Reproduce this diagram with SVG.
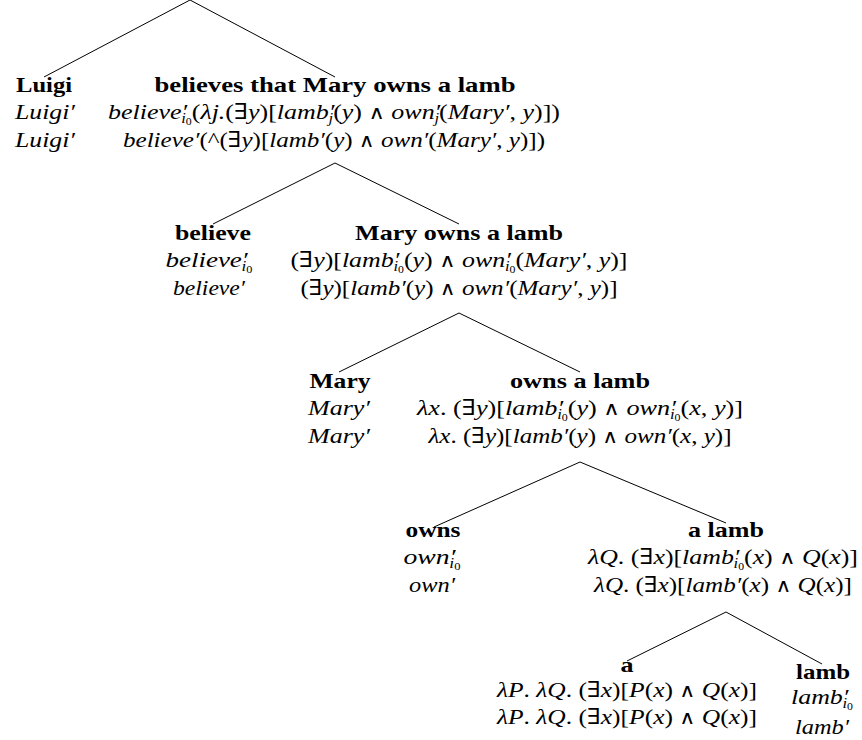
<svg xmlns="http://www.w3.org/2000/svg" width="862" height="740" viewBox="0 0 862 740">
<style>
text { font-family: "Liberation Serif", "DejaVu Serif", serif; fill: #000; text-anchor: middle; }
.b { font-weight: bold; font-size: 22px; }
.m { font-style: italic; font-size: 22px; }
.u { font-style: normal; }
.w { font-family: "DejaVu Sans", "DejaVu Serif", sans-serif; font-style: normal; font-weight: 200; font-size: 19px; }
.s { font-size: 14px; }
.ss { font-size: 10px; font-style: normal; }
.edge { stroke: #000; stroke-width: 1; fill: none; }
</style>
<rect width="862" height="740" fill="#fff"/>
<g id="connectors">
<line class="edge" x1="190" y1="0" x2="44" y2="77"/>
<line class="edge" x1="190" y1="0" x2="335" y2="77"/>
<line class="edge" x1="335" y1="163" x2="213" y2="224"/>
<line class="edge" x1="335" y1="163" x2="459" y2="224"/>
<line class="edge" x1="459" y1="313" x2="339" y2="372"/>
<line class="edge" x1="459" y1="313" x2="580" y2="372"/>
<line class="edge" x1="580" y1="462" x2="434" y2="527"/>
<line class="edge" x1="580" y1="462" x2="726" y2="523"/>
<line class="edge" x1="726" y1="612" x2="627" y2="661"/>
<line class="edge" x1="726" y1="612" x2="822" y2="664"/>
</g>
<g id="luigi">
<text class="b" x="44" y="92" textLength="56" lengthAdjust="spacingAndGlyphs">Luigi</text>
<text class="m" x="45" y="119" textLength="60" lengthAdjust="spacingAndGlyphs">Luigi′</text>
<text class="m" x="45" y="147" textLength="60" lengthAdjust="spacingAndGlyphs">Luigi′</text>
</g>
<g id="believes-that">
<text class="b" x="335" y="92" textLength="361" lengthAdjust="spacingAndGlyphs">believes that Mary owns a lamb</text>
<text class="m" x="334" y="119" textLength="452" lengthAdjust="spacingAndGlyphs">believe′<tspan class="s" dx="-5" dy="4">i</tspan><tspan class="ss" dy="2">0</tspan><tspan class="u" dy="-6">(</tspan>λj.<tspan class="u">(∃</tspan>y<tspan class="u">)[</tspan>lamb′<tspan class="s" dx="-5" dy="4">j</tspan><tspan class="u" dy="-4">(</tspan>y<tspan class="u">) </tspan><tspan class="w">∧</tspan><tspan class="u"> </tspan>own′<tspan class="s" dx="-5" dy="4">j</tspan><tspan class="u" dy="-4">(</tspan>Mary′<tspan class="u">, </tspan>y<tspan class="u">)])</tspan></text>
<text class="m" x="334" y="147" textLength="422" lengthAdjust="spacingAndGlyphs">believe′<tspan class="u">(^(∃</tspan>y<tspan class="u">)[</tspan>lamb′<tspan class="u">(</tspan>y<tspan class="u">) </tspan><tspan class="w">∧</tspan><tspan class="u"> </tspan>own′<tspan class="u">(</tspan>Mary′<tspan class="u">, </tspan>y<tspan class="u">)])</tspan></text>
</g>
<g id="believe">
<text class="b" x="213" y="240" textLength="76" lengthAdjust="spacingAndGlyphs">believe</text>
<text class="m" x="209" y="267" textLength="87" lengthAdjust="spacingAndGlyphs">believe′<tspan class="s" dx="-5" dy="4">i</tspan><tspan class="ss" dy="2">0</tspan></text>
<text class="m" x="209" y="295" textLength="72" lengthAdjust="spacingAndGlyphs">believe′</text>
</g>
<g id="mary-owns-a-lamb">
<text class="b" x="459" y="240" textLength="208" lengthAdjust="spacingAndGlyphs">Mary owns a lamb</text>
<text class="m" x="459" y="267" textLength="337" lengthAdjust="spacingAndGlyphs"><tspan class="u">(∃</tspan>y<tspan class="u">)[</tspan>lamb′<tspan class="s" dx="-5" dy="4">i</tspan><tspan class="ss" dy="2">0</tspan><tspan class="u" dy="-6">(</tspan>y<tspan class="u">) </tspan><tspan class="w">∧</tspan><tspan class="u"> </tspan>own′<tspan class="s" dx="-5" dy="4">i</tspan><tspan class="ss" dy="2">0</tspan><tspan class="u" dy="-6">(</tspan>Mary′<tspan class="u">, </tspan>y<tspan class="u">)]</tspan></text>
<text class="m" x="459" y="295" textLength="317" lengthAdjust="spacingAndGlyphs"><tspan class="u">(∃</tspan>y<tspan class="u">)[</tspan>lamb′<tspan class="u">(</tspan>y<tspan class="u">) </tspan><tspan class="w">∧</tspan><tspan class="u"> </tspan>own′<tspan class="u">(</tspan>Mary′<tspan class="u">, </tspan>y<tspan class="u">)]</tspan></text>
</g>
<g id="mary">
<text class="b" x="340" y="388" textLength="61" lengthAdjust="spacingAndGlyphs">Mary</text>
<text class="m" x="339" y="415" textLength="62" lengthAdjust="spacingAndGlyphs">Mary′</text>
<text class="m" x="339" y="443" textLength="62" lengthAdjust="spacingAndGlyphs">Mary′</text>
</g>
<g id="owns-a-lamb">
<text class="b" x="580" y="388" textLength="140" lengthAdjust="spacingAndGlyphs">owns a lamb</text>
<text class="m" x="580" y="415" textLength="326" lengthAdjust="spacingAndGlyphs">λx<tspan class="u">. (∃</tspan>y<tspan class="u">)[</tspan>lamb′<tspan class="s" dx="-5" dy="4">i</tspan><tspan class="ss" dy="2">0</tspan><tspan class="u" dy="-6">(</tspan>y<tspan class="u">) </tspan><tspan class="w">∧</tspan><tspan class="u"> </tspan>own′<tspan class="s" dx="-5" dy="4">i</tspan><tspan class="ss" dy="2">0</tspan><tspan class="u" dy="-6">(</tspan>x<tspan class="u">, </tspan>y<tspan class="u">)]</tspan></text>
<text class="m" x="580" y="443" textLength="303" lengthAdjust="spacingAndGlyphs">λx<tspan class="u">. (∃</tspan>y<tspan class="u">)[</tspan>lamb′<tspan class="u">(</tspan>y<tspan class="u">) </tspan><tspan class="w">∧</tspan><tspan class="u"> </tspan>own′<tspan class="u">(</tspan>x<tspan class="u">, </tspan>y<tspan class="u">)]</tspan></text>
</g>
<g id="owns">
<text class="b" x="433" y="537" textLength="55" lengthAdjust="spacingAndGlyphs">owns</text>
<text class="m" x="432" y="564" textLength="57" lengthAdjust="spacingAndGlyphs">own′<tspan class="s" dx="-5" dy="4">i</tspan><tspan class="ss" dy="2">0</tspan></text>
<text class="m" x="432" y="592" textLength="46" lengthAdjust="spacingAndGlyphs">own′</text>
</g>
<g id="a-lamb">
<text class="b" x="726" y="537" textLength="76" lengthAdjust="spacingAndGlyphs">a lamb</text>
<text class="m" x="723" y="564" textLength="270" lengthAdjust="spacingAndGlyphs">λQ<tspan class="u">. (∃</tspan>x<tspan class="u">)[</tspan>lamb′<tspan class="s" dx="-5" dy="4">i</tspan><tspan class="ss" dy="2">0</tspan><tspan class="u" dy="-6">(</tspan>x<tspan class="u">) </tspan><tspan class="w">∧</tspan><tspan class="u"> </tspan>Q<tspan class="u">(</tspan>x<tspan class="u">)]</tspan></text>
<text class="m" x="723" y="592" textLength="258" lengthAdjust="spacingAndGlyphs">λQ<tspan class="u">. (∃</tspan>x<tspan class="u">)[</tspan>lamb′<tspan class="u">(</tspan>x<tspan class="u">) </tspan><tspan class="w">∧</tspan><tspan class="u"> </tspan>Q<tspan class="u">(</tspan>x<tspan class="u">)]</tspan></text>
</g>
<g id="a">
<text class="b" x="627" y="672" textLength="13" lengthAdjust="spacingAndGlyphs">a</text>
<text class="m" x="627" y="697" textLength="260" lengthAdjust="spacingAndGlyphs">λP<tspan class="u">. </tspan>λQ<tspan class="u">. (∃</tspan>x<tspan class="u">)[</tspan>P<tspan class="u">(</tspan>x<tspan class="u">) </tspan><tspan class="w">∧</tspan><tspan class="u"> </tspan>Q<tspan class="u">(</tspan>x<tspan class="u">)]</tspan></text>
<text class="m" x="627" y="724" textLength="260" lengthAdjust="spacingAndGlyphs">λP<tspan class="u">. </tspan>λQ<tspan class="u">. (∃</tspan>x<tspan class="u">)[</tspan>P<tspan class="u">(</tspan>x<tspan class="u">) </tspan><tspan class="w">∧</tspan><tspan class="u"> </tspan>Q<tspan class="u">(</tspan>x<tspan class="u">)]</tspan></text>
</g>
<g id="lamb">
<text class="b" x="823" y="679" textLength="54" lengthAdjust="spacingAndGlyphs">lamb</text>
<text class="m" x="822" y="704" textLength="62" lengthAdjust="spacingAndGlyphs">lamb′<tspan class="s" dx="-5" dy="4">i</tspan><tspan class="ss" dy="2">0</tspan></text>
<text class="m" x="822" y="734" textLength="54" lengthAdjust="spacingAndGlyphs">lamb′</text>
</g>
</svg>
